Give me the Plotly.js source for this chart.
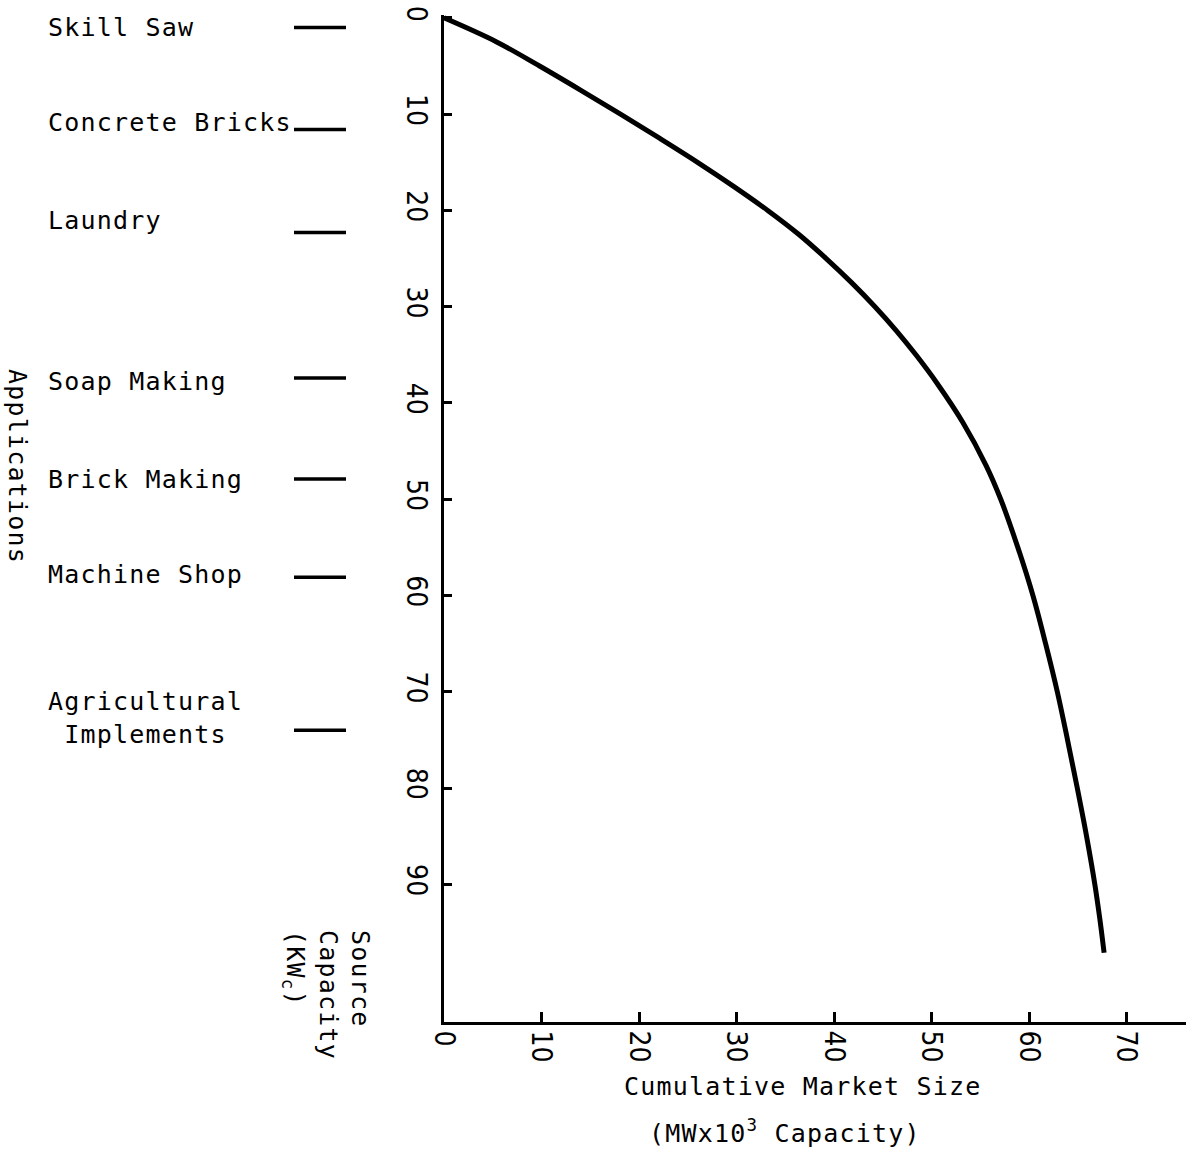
<!DOCTYPE html>
<html>
<head>
<meta charset="utf-8">
<script src="https://cdn.plot.ly/plotly-3.0.1.min.js"></script>
<style>
  html, body { margin: 0; padding: 0; background: #fff; }
  #chart { width: 1194px; height: 1154px; }
  .annotation-text { letter-spacing: 1.2px; }
</style>
</head>
<body>
<div id="chart"></div>
<script>
// Curve: cumulative market size (MW x 10^3) vs source capacity (kWc)
var marketSize = [0, 5.4, 9.8, 14.0, 18.1, 22.1, 26.0, 29.7, 33.2, 36.4, 39.2, 41.8, 44.2, 46.4, 48.4, 50.6, 53.2, 55.6, 57.1, 58.85, 60.4, 61.7, 62.9, 63.95, 64.95, 65.9, 66.75, 67.25, 67.7];
var sourceCapacity = [0, 2.5, 5, 7.5, 10, 12.5, 15, 17.5, 20, 22.5, 25, 27.5, 30, 32.5, 35, 38, 42, 46.5, 50, 55, 60, 65, 70, 75, 80, 85, 90, 93.5, 97.1];

// Applications and their source capacity (kWc)
var applications = ["Skill Saw", "Concrete Bricks", "Laundry", "Soap Making", "Brick Making", "Machine Shop", "Agricultural<br>Implements"];
var applicationCapacity = [1.0, 11.6, 22.3, 37.4, 47.9, 58.1, 74.0];

// Tick labels
var xTicks = [0, 10, 20, 30, 40, 50, 60, 70];
var yTicks = [0, 10, 20, 30, 40, 50, 60, 70, 80, 90];

// ---- layout helpers (pixels -> paper) ----
var PW = 1186; // plot paper width (margin l = 0, r = 8)
function px(x) { return x / PW; }
var labelShift = [0, 7, 12, -4, 0, 3, 12];

var mono = "DejaVu Sans Mono, Liberation Mono, monospace";
var tickFont = { family: "Liberation Sans Narrow, DejaVu Sans Condensed, Liberation Sans, Arial, sans-serif", size: 28, color: "#000" };

var shapes = applicationCapacity.map(function (v) {
  return { type: "line", xref: "paper", yref: "y", x0: px(294), x1: px(346), y0: v, y1: v,
           line: { color: "#000", width: 3.5 } };
});

var annotations = applications.map(function (name, i) {
  return { xref: "paper", yref: "y", x: px(46), y: applicationCapacity[i], xanchor: "left", yanchor: "middle",
           yshift: labelShift[i], text: name, showarrow: false, align: "center",
           font: { family: mono, size: 25, color: "#000" } };
});

annotations.push({ xref: "paper", yref: "paper", x: px(18), y: 1 - (466 - 15) / 1007, xanchor: "center", yanchor: "middle",
  text: "Applications", textangle: 90, showarrow: false, font: { family: mono, size: 25, color: "#000" } });

annotations.push({ xref: "paper", yref: "paper", x: px(327), y: 1 - (928 - 15) / 1007, xanchor: "center", yanchor: "top",
  text: "Source<br>Capacity<br>(KW<sub>c</sub>)", textangle: 90, align: "left", showarrow: false,
  font: { family: mono, size: 25, color: "#000" } });

annotations.push({ xref: "paper", yref: "paper", x: px(803), y: 1 - (1086 - 15) / 1007, xanchor: "center", yanchor: "middle",
  text: "Cumulative Market Size", showarrow: false, font: { family: mono, size: 25, color: "#000" } });

annotations.push({ xref: "paper", yref: "paper", x: px(785), y: 1 - (1131 - 15) / 1007, xanchor: "center", yanchor: "middle",
  text: "(MWx10<sup>3</sup> Capacity)", showarrow: false, font: { family: mono, size: 25, color: "#000" } });

var trace = {
  x: marketSize, y: sourceCapacity, type: "scatter", mode: "lines",
  line: { color: "#000", width: 5, shape: "spline", smoothing: 1 },
  hoverinfo: "skip", showlegend: false
};

var layout = {
  width: 1194, height: 1154,
  margin: { l: 0, r: 8, t: 15, b: 132, pad: 0 },
  paper_bgcolor: "#fff", plot_bgcolor: "#fff",
  showlegend: false,
  xaxis: {
    domain: [px(444), 1], range: [0, 76.1],
    showgrid: false, zeroline: false, showline: true, linecolor: "#000", linewidth: 3,
    ticks: "inside", ticklen: 10, tickwidth: 3, tickcolor: "#000",
    tickmode: "array", tickvals: xTicks, ticktext: xTicks.map(String),
    tickangle: 90, tickfont: tickFont, ticklabelstandoff: 0
  },
  yaxis: {
    range: [104.3, -0.3],
    showgrid: false, zeroline: false, showline: true, linecolor: "#000", linewidth: 3,
    ticks: "inside", ticklen: 8, tickwidth: 3, tickcolor: "#000",
    tickmode: "array", tickvals: yTicks, ticktext: yTicks.map(String),
    tickangle: 90, tickfont: tickFont, ticklabelstandoff: 0
  },
  shapes: shapes,
  annotations: annotations
};

Plotly.newPlot("chart", [trace], layout, { staticPlot: true, displayModeBar: false });
</script>
</body>
</html>
